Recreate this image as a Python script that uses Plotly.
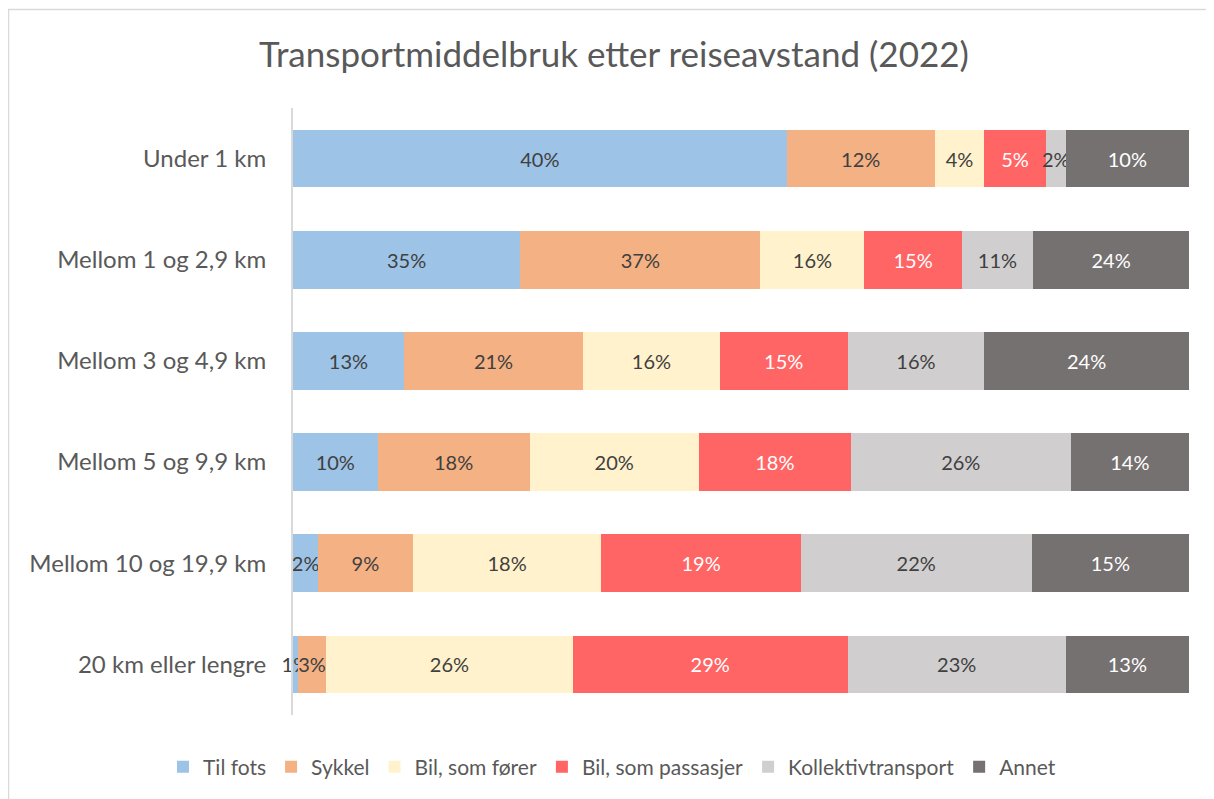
import math
import plotly.graph_objects as go

categories = ["Under 1 km", "Mellom 1 og 2,9 km", "Mellom 3 og 4,9 km",
              "Mellom 5 og 9,9 km", "Mellom 10 og 19,9 km", "20 km eller lengre"]
series_names = ["Til fots", "Sykkel", "Bil, som fører", "Bil, som passasjer",
                "Kollektivtransport", "Annet"]
til_fots = [40, 35, 13, 10, 2.4, 0.5]
sykkel = [12, 37, 21, 18, 9, 3]
bil_forer = [4, 16, 16, 20, 18, 26]
bil_passasjer = [5, 15, 15, 18, 19, 29]
kollektiv = [1.6, 11, 16, 26, 22, 23]
annet = [10, 24, 24, 14, 15, 13]

colors = ["#9DC3E6", "#F4B183", "#FFF2CC", "#FF6565", "#D0CECE", "#767171"]
text_colors = ["#404040", "#404040", "#404040", "#FFFFFF", "#404040", "#FFFFFF"]

FONT = "Lato"
# page has an 8px body margin; figure coordinates are page coordinates minus 8
OFF = 8
W, H = 1214 - OFF, 799 - OFF
L = 293 - OFF
T = 108 - OFF
R = W - (1189 - OFF)
B = H - (715 - OFF)
pw = W - L - R
ph = H - T - B

fig = go.Figure()
for name, vals, col, tcol in zip(series_names,
                                 [til_fots, sykkel, bil_forer, bil_passasjer, kollektiv, annet],
                                 colors, text_colors):
    fig.add_trace(go.Bar(
        y=categories, x=vals, name=name, orientation="h",
        marker=dict(color=col, line=dict(width=0)),
        text=[f"{math.floor(v + 0.5)}%" for v in vals],
        textposition="inside", insidetextanchor="middle", textangle=0,
        textfont=dict(family=FONT, size=20, color=tcol),
        constraintext="none", cliponaxis=False,
    ))

fig.update_layout(
    width=W, height=H,
    barmode="stack", barnorm="percent", bargap=0.43,
    margin=dict(l=L, r=R, t=T, b=B, autoexpand=False),
    paper_bgcolor="white", plot_bgcolor="white",
    title=dict(text="Transportmiddelbruk etter reiseavstand (2022)",
               x=(614 - OFF) / W, xref="container", xanchor="center",
               y=1 - (55 - OFF) / H, yref="container", yanchor="middle",
               font=dict(family=FONT, size=35, color="#595959")),
    xaxis=dict(visible=False, range=[0, 100.001], fixedrange=True),
    yaxis=dict(autorange="reversed", showline=True, linecolor="#D9D9D9", linewidth=2,
               ticks="", showgrid=False, ticklabelstandoff=20,
               tickfont=dict(family=FONT, size=24, color="#595959")),
    legend=dict(orientation="h", x=(612 - OFF - L) / pw,
                xanchor="center", y=-((767 - OFF) - (H - B)) / ph, yanchor="middle",
                font=dict(family=FONT, size=21, color="#595959"),
                traceorder="normal"),
    showlegend=True,
)

# outer chart border
fig.add_shape(type="rect", xref="paper", yref="paper",
              x0=(0.5 - L) / pw, x1=(W + 5 - L) / pw,
              y0=-(H + 5 - (H - B)) / ph, y1=((H - B) - 1.5) / ph,
              line=dict(color="#D9D9D9", width=1.5), fillcolor="rgba(0,0,0,0)", layer="below")

fig.write_html("out.html")
